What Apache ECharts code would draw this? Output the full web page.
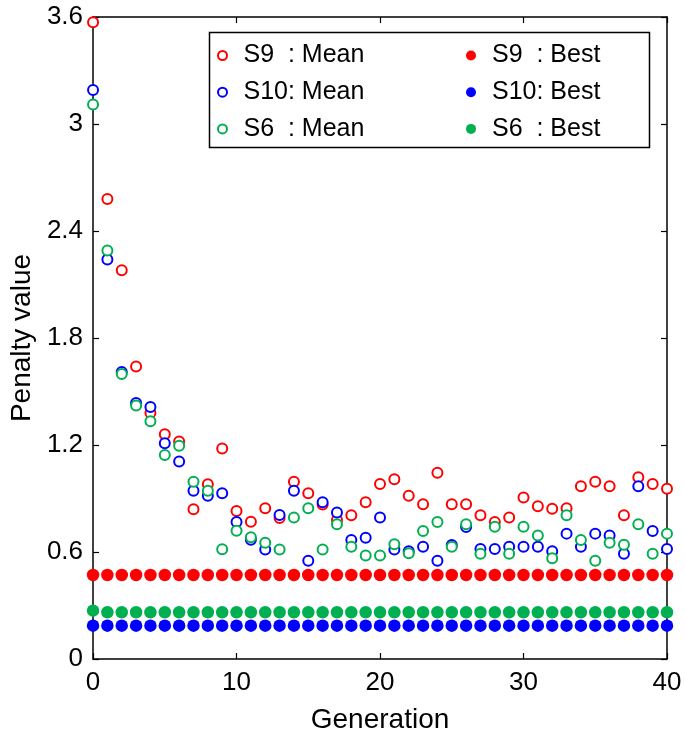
<!DOCTYPE html>
<html>
<head>
<meta charset="utf-8">
<script src="https://cdn.jsdelivr.net/npm/echarts@6/dist/echarts.min.js"></script>
<style>
html,body{margin:0;padding:0;background:#fff;}
#chart{width:685px;height:741px;}
</style>
</head>
<body>
<div id="chart"></div>
<script>
const generations = [0,1,2,3,4,5,6,7,8,9,10,11,12,13,14,15,16,17,18,19,20,21,22,23,24,25,26,27,28,29,30,31,32,33,34,35,36,37,38,39,40];
const xTicks = [0,10,20,30,40];
const yTicks = [0,0.6,1.2,1.8,2.4,3,3.6];

const s9Mean  = [3.57,2.58,2.18,1.64,1.38,1.26,1.22,0.84,0.98,1.18,0.83,0.77,0.845,0.79,0.994,0.93,0.866,0.78,0.806,0.879,0.981,1.008,0.916,0.868,1.045,0.868,0.868,0.806,0.768,0.793,0.905,0.856,0.843,0.845,0.969,0.994,0.969,0.806,1.019,0.981,0.955];
const s10Mean = [3.19,2.24,1.61,1.436,1.413,1.21,1.107,0.944,0.916,0.93,0.768,0.669,0.614,0.808,0.944,0.551,0.879,0.821,0.667,0.68,0.793,0.614,0.604,0.63,0.551,0.639,0.74,0.617,0.617,0.63,0.63,0.63,0.604,0.703,0.63,0.703,0.692,0.59,0.969,0.718,0.617];
const s6Mean  = [3.11,2.29,1.598,1.421,1.333,1.144,1.196,0.994,0.944,0.616,0.719,0.683,0.652,0.614,0.793,0.845,0.614,0.755,0.63,0.58,0.58,0.643,0.593,0.718,0.768,0.63,0.755,0.59,0.742,0.59,0.742,0.692,0.565,0.806,0.667,0.551,0.652,0.641,0.755,0.59,0.703];

const s9Best  = [0.471,0.471,0.471,0.471,0.471,0.471,0.471,0.471,0.471,0.471,0.471,0.471,0.471,0.471,0.471,0.471,0.471,0.471,0.471,0.471,0.471,0.471,0.471,0.471,0.471,0.471,0.471,0.471,0.471,0.471,0.471,0.471,0.471,0.471,0.471,0.471,0.471,0.471,0.471,0.471,0.471];
const s10Best = [0.187,0.187,0.187,0.187,0.187,0.187,0.187,0.187,0.187,0.187,0.187,0.187,0.187,0.187,0.187,0.187,0.187,0.187,0.187,0.187,0.187,0.187,0.187,0.187,0.187,0.187,0.187,0.187,0.187,0.187,0.187,0.187,0.187,0.187,0.187,0.187,0.187,0.187,0.187,0.187,0.187];
const s6Best  = [0.271,0.262,0.262,0.262,0.262,0.262,0.262,0.262,0.262,0.262,0.262,0.262,0.262,0.262,0.262,0.262,0.262,0.262,0.262,0.262,0.262,0.262,0.262,0.262,0.262,0.262,0.262,0.262,0.262,0.262,0.262,0.262,0.262,0.262,0.262,0.262,0.262,0.262,0.262,0.262,0.262];

const meanNames = ['S9  : Mean','S10: Mean','S6  : Mean'];
const bestNames = ['S9  : Best','S10: Best','S6  : Best'];
const colors = ['#ff0000','#0000ff','#00b050'];

const FONT = "'Liberation Sans', Arial, sans-serif";
const pairs = a => generations.map((g,i)=>[g,a[i]]);

function meanSeries(name, data, color){
  return {name, type:'scatter', data:pairs(data), symbol:'emptyCircle', symbolSize:10,
    itemStyle:{color:color, borderWidth:1.4, opacity:1}, z:3};
}
function bestSeries(name, data, color){
  return {name, type:'scatter', data:pairs(data), symbol:'circle', symbolSize:12.5,
    itemStyle:{color:color, opacity:1}, z:2};
}

const axisCommon = {
  axisLine:{show:true, onZero:false, lineStyle:{color:'#000', width:1.5}},
  axisTick:{show:true, inside:true, length:6, lineStyle:{color:'#000', width:1.2}},
  splitLine:{show:false}
};

const chart = echarts.init(document.getElementById('chart'), null, {renderer:'canvas'});
chart.setOption({
  animation:false,
  backgroundColor:'#fff',
  grid:{left:93, right:18, top:17, bottom:82},
  xAxis:[
    Object.assign({type:'value', min:xTicks[0], max:xTicks[xTicks.length-1], interval:10, position:'bottom',
      name:'Generation', nameLocation:'middle', nameGap:47,
      nameTextStyle:{color:'#000', fontSize:28, fontFamily:FONT},
      axisLabel:{color:'#000', fontSize:26, fontFamily:FONT, margin:11}}, axisCommon),
    Object.assign({type:'value', min:xTicks[0], max:xTicks[xTicks.length-1], interval:10, position:'top',
      axisLabel:{show:false}}, axisCommon)
  ],
  yAxis:[
    Object.assign({type:'value', min:yTicks[0], max:yTicks[yTicks.length-1], interval:0.6, position:'left',
      name:'Penalty value', nameLocation:'middle', nameGap:56,
      nameTextStyle:{color:'#000', fontSize:28, fontFamily:FONT},
      axisLabel:{color:'#000', fontSize:26, fontFamily:FONT, margin:10,
        formatter:v=>String(+v.toFixed(1))}}, axisCommon),
    Object.assign({type:'value', min:yTicks[0], max:yTicks[yTicks.length-1], interval:0.6, position:'right',
      axisLabel:{show:false}}, axisCommon)
  ],
  legend:[
    {data:meanNames.map(n=>({name:n, icon:'emptyCircle'})), orient:'vertical', left:217, top:42.5, padding:0,
      itemWidth:32, itemHeight:9, itemGap:10.7,
      itemStyle:{borderWidth:1.3},
      textStyle:{color:'#000', fontSize:25, fontFamily:FONT, lineHeight:26}},
    {data:bestNames.map(n=>({name:n, icon:'circle'})), orient:'vertical', left:466, top:42.5, padding:0,
      itemWidth:32, itemHeight:10, itemGap:10.7,
      textStyle:{color:'#000', fontSize:25, fontFamily:FONT, lineHeight:26}}
  ],
  graphic:[{type:'rect', left:207, top:30, shape:{width:440, height:115},
    style:{fill:null, stroke:'#000', lineWidth:1.5}, z:-1, silent:true}],
  series:[
    bestSeries(bestNames[0], s9Best, colors[0]),
    bestSeries(bestNames[1], s10Best, colors[1]),
    bestSeries(bestNames[2], s6Best, colors[2]),
    meanSeries(meanNames[0], s9Mean, colors[0]),
    meanSeries(meanNames[1], s10Mean, colors[1]),
    meanSeries(meanNames[2], s6Mean, colors[2])
  ]
});
</script>
</body>
</html>
